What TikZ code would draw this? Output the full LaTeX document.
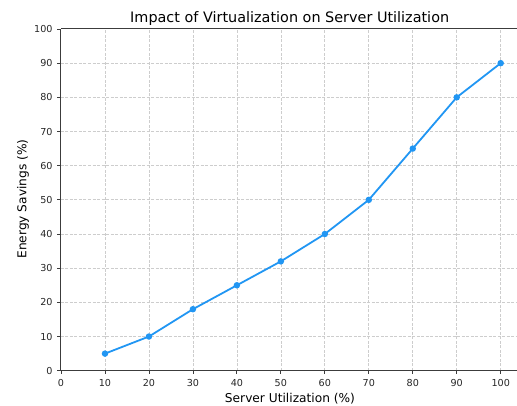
\documentclass[tikz,border=0pt]{standalone}
\usepackage{fontspec}
\setmainfont{DejaVu Sans}
\usepackage{tikz}
\usetikzlibrary{arrows,shapes}
\pgfdeclarelayer{background}
\pgfsetlayers{background,main}
\definecolor{plotblue}{RGB}{33,150,243}
\definecolor{gridgray}{RGB}{205,205,205}
\definecolor{spinegray}{RGB}{60,60,60}
\tikzstyle{point}=[circle,fill=plotblue,minimum size=6.5pt,inner sep=0pt]
\tikzstyle{edge} = [draw,plotblue,line width=1.8pt,-]
\tikzstyle{gridline}=[draw,gridgray,line width=0.7pt,dash pattern=on 3pt off 1.5pt]
\tikzstyle{spine}=[draw,spinegray,line width=1pt]
\tikzstyle{tick}=[draw,spinegray,line width=0.8pt]
\tikzstyle{ticklabel}=[inner sep=0pt,font=\fontsize{9.6}{11}\selectfont,text=black!85]
\tikzstyle{axislabel}=[inner sep=0pt,font=\fontsize{12.2}{14}\selectfont]

\begin{document}
\begin{tikzpicture}[x=4.397pt,y=3.417pt]
    \useasboundingbox (-61pt,-34.3pt) rectangle (456pt,370.7pt);
    % First the axes with ticks and labels
    \path[spine] (0,100) -- (0,0) -- (103.7,0);
    \path[spine] (0,100) -- (103.7,100);
    \foreach \v in {0,10,...,100} {
        \path[tick] (\v,0) -- ++(0,-3.5pt);
        \node[ticklabel,anchor=base] (xt\v) at ([yshift=-16pt]\v,0) {\v};
        \path[tick] (0,\v) -- ++(-3.5pt,0);
        \node[ticklabel,anchor=east] (yt\v) at ([xshift=-8.3pt]0,\v) {\v};
    }
    \node[axislabel,anchor=base] (title) at (228.7pt,348pt)
        {\fontsize{14.4}{16}\selectfont Impact of Virtualization on Server Utilization};
    \node[axislabel,anchor=base] (xlabel) at (229pt,-31.6pt) {Server Utilization (\%)};
    \node[axislabel,anchor=base,rotate=90] (ylabel) at (-34.5pt,171.7pt) {Energy Savings (\%)};
    % Now the data points
    \foreach \pos/\name in {{(10,5)/p1}, {(20,10)/p2}, {(30,18)/p3}, {(40,25)/p4},
        {(50,32)/p5}, {(60,40)/p6}, {(70,50)/p7}, {(80,65)/p8}, {(90,80)/p9}, {(100,90)/p10}}
        \node[point] (\name) at \pos {};
    \begin{pgfonlayer}{background}
        % Grid behind everything
        \foreach \v in {10,20,...,100}
            \path[gridline] (\v,0) -- (\v,100);
        \foreach \v in {10,20,...,90}
            \path[gridline] (0,\v) -- (103.7,\v);
        % Connect points with line segments
        \foreach \source/ \dest in {p1/p2, p2/p3, p3/p4, p4/p5, p5/p6, p6/p7, p7/p8, p8/p9, p9/p10}
            \path[edge] (\source.center) -- (\dest.center);
    \end{pgfonlayer}
\end{tikzpicture}
\end{document}
